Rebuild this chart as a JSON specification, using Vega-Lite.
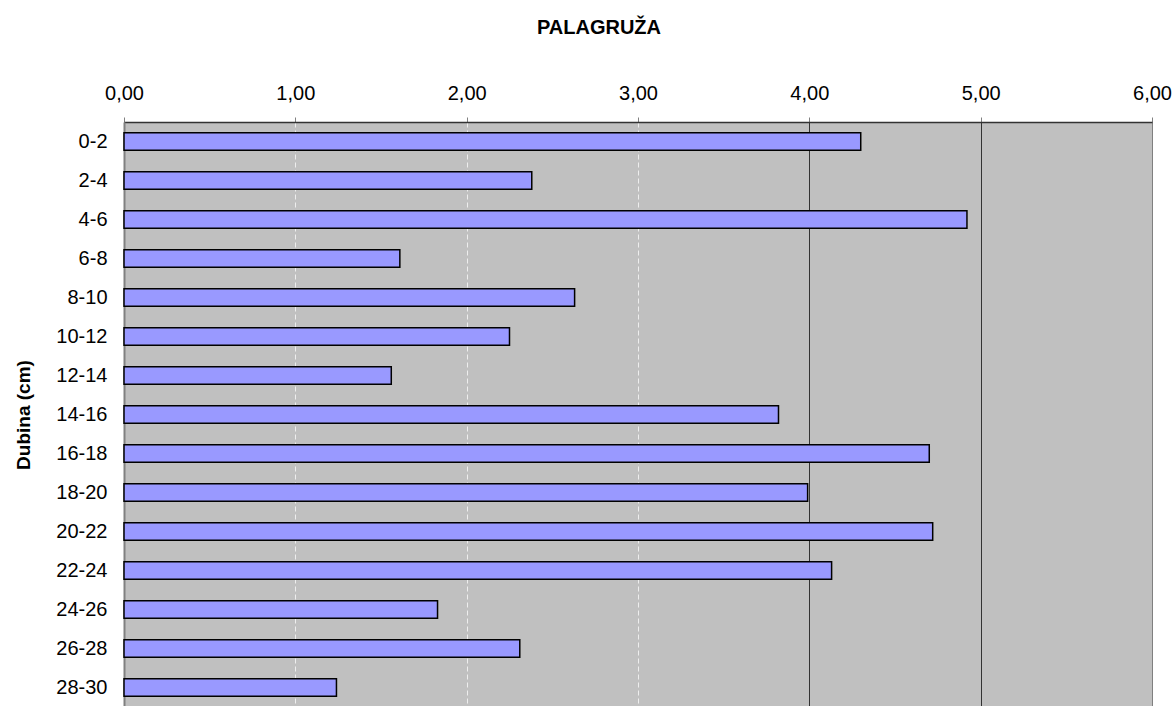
{
  "$schema": "https://vega.github.io/schema/vega-lite/v6.json",
  "autosize": "none",
  "width": 1028,
  "height": 585,
  "padding": {"left": 124, "top": 122, "right": 24, "bottom": 0},
  "background": "white",
  "title": {
    "text": "PALAGRUŽA",
    "font": "Liberation Sans",
    "fontSize": 20,
    "fontWeight": "bold",
    "color": "black",
    "anchor": "middle",
    "frame": "group",
    "dx": -39,
    "offset": 45
  },
  "config": {
    "view": {"fill": "#c0c0c0", "stroke": "#808080", "strokeWidth": 1}
  },
  "data": {
    "values": [
      {"dubina": "0-2", "v": 4.30},
      {"dubina": "2-4", "v": 2.38},
      {"dubina": "4-6", "v": 4.92},
      {"dubina": "6-8", "v": 1.61},
      {"dubina": "8-10", "v": 2.63},
      {"dubina": "10-12", "v": 2.25},
      {"dubina": "12-14", "v": 1.56},
      {"dubina": "14-16", "v": 3.82},
      {"dubina": "16-18", "v": 4.70},
      {"dubina": "18-20", "v": 3.99},
      {"dubina": "20-22", "v": 4.72},
      {"dubina": "22-24", "v": 4.13},
      {"dubina": "24-26", "v": 1.83},
      {"dubina": "26-28", "v": 2.31},
      {"dubina": "28-30", "v": 1.24}
    ]
  },
  "mark": {"type": "bar", "fill": "#9999ff", "stroke": "black", "strokeWidth": 1.5},
  "encoding": {
    "y": {
      "field": "dubina",
      "type": "nominal",
      "sort": null,
      "scale": {"paddingInner": 0.55, "paddingOuter": 0.275},
      "axis": {
        "title": "Dubina (cm)",
        "titleFont": "Liberation Sans",
        "titleFontSize": 19,
        "titleFontWeight": "bold",
        "titleColor": "black",
        "titlePadding": 22,
        "labelFont": "Liberation Sans",
        "labelFontSize": 20,
        "labelFontWeight": "normal",
        "labelColor": "black",
        "labelPadding": 17,
        "ticks": false,
        "domainColor": "#808080",
        "domainWidth": 2
      }
    },
    "x": {
      "field": "v",
      "type": "quantitative",
      "scale": {"domain": [0, 6], "nice": false},
      "axis": {
        "orient": "top",
        "title": null,
        "values": [0, 1, 2, 3, 4, 5, 6],
        "labelExpr": "replace(format(datum.value, '.2f'), '.', ',')",
        "labelFlush": false,
        "labelFont": "Liberation Sans",
        "labelFontSize": 20,
        "labelFontWeight": "normal",
        "labelColor": "black",
        "labelBaseline": "alphabetic",
        "labelPadding": 18,
        "tickSize": 5,
        "tickColor": "#808080",
        "domainColor": "#333333",
        "domainWidth": 1.5,
        "grid": true,
        "gridColor": {"condition": [{"test": "datum.value >= 6", "value": "#808080"}, {"test": "datum.value >= 4", "value": "#333333"}], "value": "#eeeeee"},
        "gridDash": {"condition": {"test": "datum.value >= 4", "value": []}, "value": [5, 3]},
        "gridWidth": 1
      }
    }
  }
}
